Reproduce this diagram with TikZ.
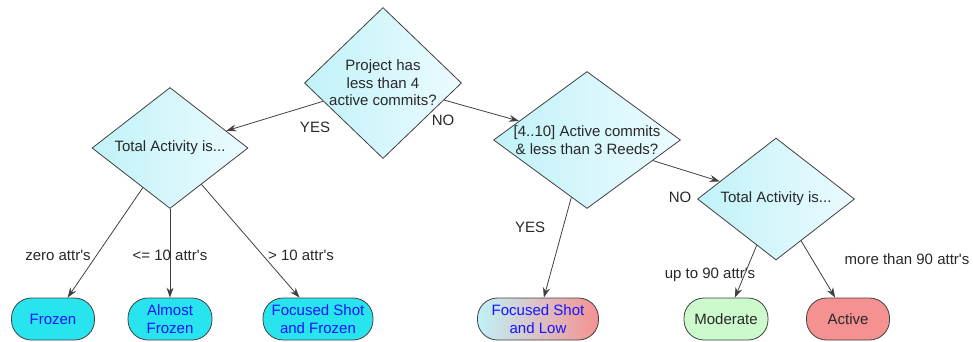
\documentclass[tikz,border=0pt]{standalone}
\usepackage{fontspec}
\setmainfont{Liberation Sans}
\usetikzlibrary{shapes.geometric,arrows.meta}

\definecolor{diaLeft}{RGB}{192,242,248}
\definecolor{diaRight}{RGB}{236,251,255}
\definecolor{frozCyan}{RGB}{40,228,238}
\definecolor{modGreen}{RGB}{204,250,204}
\definecolor{actRed}{RGB}{245,145,145}
\definecolor{lineGray}{RGB}{64,64,64}
\definecolor{txtBlue}{RGB}{20,20,255}
\definecolor{txtDark}{RGB}{40,40,40}

\tikzset{
  decision/.style={diamond, draw=lineGray, line width=0.8pt,
    left color=diaLeft, right color=diaRight, inner sep=-6pt,
    align=center, text=txtDark, font=\fontsize{15}{17.5}\selectfont},
  leaf/.style={rectangle, rounded corners=20pt, draw=lineGray, line width=0.8pt,
    minimum height=42pt, inner xsep=0pt, inner ysep=0pt, align=center,
    font=\fontsize{15}{17.5}\selectfont},
  flow/.style={draw=lineGray, line width=0.8pt, -{Stealth[length=10pt,width=7pt]}},
  tag/.style={text=txtDark, inner sep=0pt, font=\fontsize{15}{17.5}\selectfont}
}

\begin{document}
\begin{tikzpicture}[x=1pt,y=-1pt]
\useasboundingbox (0,0) rectangle (973,341);

% questions
\node[decision, minimum width=157pt, minimum height=151pt] (qFew) at (383,83)
  {Project has\\less than 4\\active commits?};
\node[decision, minimum width=156pt, minimum height=121pt] (qTotL) at (170,148)
  {Total Activity is...};
\node[decision, aspect=1.3, minimum width=187pt, minimum height=137pt] (qMid) at (587,140)
  {[4..10] Active commits\\\& less than 3 Reeds?};
\node[decision, minimum width=157pt, minimum height=122pt] (qTotR) at (776,199)
  {Total Activity is...};

% outcomes
\node[leaf, fill=frozCyan, text=txtBlue, minimum width=83pt] (lFrozen) at (53,319) {Frozen};
\node[leaf, fill=frozCyan, text=txtBlue, minimum width=84pt] (lAlmost) at (170,319) {Almost\\Frozen};
\node[leaf, fill=frozCyan, text=txtBlue, minimum width=110pt] (lShotFrozen) at (318,319) {Focused Shot\\and Frozen};
\node[leaf, left color=diaLeft, right color=actRed, text=txtBlue, minimum width=121pt] (lShotLow) at (538,319) {Focused Shot\\and Low};
\node[leaf, fill=modGreen, text=txtDark, minimum width=84pt] (lModerate) at (726,319) {Moderate};
\node[leaf, fill=actRed, text=txtDark, minimum width=83pt] (lActive) at (848,319) {Active};

% connectors
\foreach \a/\b in {qFew/qTotL, qFew/qMid, qMid/qTotR, qMid/lShotLow,
    qTotL/lFrozen, qTotL/lAlmost, qTotL/lShotFrozen,
    qTotR/lModerate, qTotR/lActive}
{
    \draw[flow] (\a) -- (\b);
};

% answers
\foreach \p/\n/\t in {
    {(315,127)}/tYesA/YES,
    {(443,120)}/tNoA/NO,
    {(530,227)}/tYesB/YES,
    {(680,197)}/tNoB/NO,
    {(58,255)}/tZero/zero attr\textquotesingle s,
    {(170,255)}/tTen/<= 10 attr\textquotesingle s,
    {(301,255)}/tMore/> 10 attr\textquotesingle s,
    {(710,275)}/tUpTo/up to 90 attr\textquotesingle s,
    {(907,259)}/tNinety/more than 90 attr\textquotesingle s
}
{
    \node[tag] (\n) at \p {\t};
};
\end{tikzpicture}
\end{document}
